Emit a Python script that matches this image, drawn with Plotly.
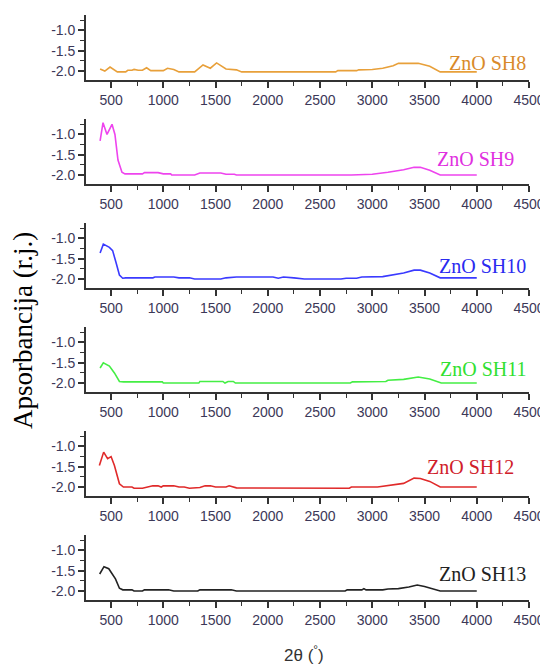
import plotly.graph_objects as go
from plotly.subplots import make_subplots

# Спектры поглощения образцов ZnO.
sh8_x = [395, 440, 490, 560, 640, 660, 700, 720, 760, 800, 840, 880, 1000, 1040, 1100, 1150, 1300,
         1380, 1450, 1510, 1600, 1700, 1750, 2650, 2670, 2850, 2870, 3000, 3100, 3200, 3250, 3440,
         3550, 3650, 4000]
sh8_y = [-1.95, -2.0, -1.9, -2.02, -2.02, -1.98, -1.98, -1.96, -1.98, -1.98, -1.92, -1.99, -1.99,
         -1.93, -1.96, -2.02, -2.02, -1.85, -1.93, -1.8, -1.95, -1.97, -2.02, -2.02, -1.99, -1.99,
         -1.97, -1.96, -1.93, -1.87, -1.81, -1.81, -1.88, -2.02, -2.02]

sh9_x = [395, 423, 461, 509, 537, 566, 604, 633, 800, 820, 950, 1000, 1070, 1080, 1300, 1350, 1550,
         1600, 1680, 1700, 2800, 3000, 3150, 3300, 3400, 3460, 3550, 3650, 4000]
sh9_y = [-1.16, -0.71, -1.0, -0.75, -1.0, -1.63, -1.93, -1.97, -1.97, -1.94, -1.94, -1.97, -1.97,
         -2.0, -2.0, -1.95, -1.95, -1.98, -1.98, -2.0, -2.0, -1.98, -1.93, -1.87, -1.81, -1.81,
         -1.88, -2.0, -2.0]

sh10_x = [395, 426, 484, 515, 548, 580, 611, 640, 900, 920, 1100, 1150, 1250, 1300, 1550, 1600,
          1700, 2050, 2100, 2150, 2250, 2350, 2700, 2750, 2850, 2900, 3100, 3200, 3300, 3400, 3460,
          3550, 3650, 4000]
sh10_y = [-1.36, -1.14, -1.22, -1.3, -1.6, -1.9, -1.98, -1.97, -1.97, -1.95, -1.95, -1.97, -1.97,
          -2.0, -2.0, -1.97, -1.95, -1.95, -1.98, -1.95, -1.97, -2.0, -2.0, -1.98, -1.98, -1.95,
          -1.94, -1.9, -1.85, -1.78, -1.78, -1.85, -1.97, -1.97]

sh11_x = [395, 426, 484, 532, 580, 620, 990, 1000, 1340, 1350, 1570, 1590, 1620, 1670, 1690, 2790,
          2810, 3130, 3150, 3300, 3440, 3550, 3660, 4000]
sh11_y = [-1.63, -1.5, -1.58, -1.75, -1.96, -1.97, -1.97, -2.0, -2.0, -1.96, -1.96, -2.0, -1.96,
          -1.96, -2.0, -2.0, -1.97, -1.96, -1.93, -1.91, -1.85, -1.9, -2.0, -2.0]

sh12_x = [388, 429, 467, 500, 532, 580, 618, 700, 720, 800, 850, 900, 950, 980, 1000, 1100, 1150,
          1200, 1250, 1350, 1400, 1450, 1500, 1600, 1630, 1700, 2780, 2800, 3050, 3200, 3300, 3400,
          3460, 3550, 3650, 4000]
sh12_y = [-1.47, -1.14, -1.3, -1.25, -1.47, -1.92, -2.0, -2.0, -2.03, -2.03, -2.0, -1.97, -1.97,
          -2.0, -1.97, -1.97, -2.0, -2.0, -2.03, -2.01, -1.97, -1.97, -2.0, -2.0, -1.97, -2.02,
          -2.03, -2.0, -2.0, -1.95, -1.91, -1.78, -1.79, -1.86, -2.0, -2.0]

sh13_x = [391, 432, 478, 510, 542, 580, 612, 700, 720, 800, 820, 1050, 1100, 1330, 1350, 1650, 1700,
          2740, 2760, 2900, 2920, 2940, 3100, 3150, 3250, 3350, 3430, 3500, 3650, 4000]
sh13_y = [-1.58, -1.4, -1.45, -1.58, -1.7, -1.93, -1.97, -1.97, -2.0, -2.0, -1.97, -1.97, -2.0,
          -2.0, -1.97, -1.97, -2.0, -2.0, -1.97, -1.97, -1.94, -1.97, -1.97, -1.95, -1.94, -1.9,
          -1.85, -1.89, -2.0, -2.0]

names = ["ZnO SH8", "ZnO SH9", "ZnO SH10", "ZnO SH11", "ZnO SH12", "ZnO SH13"]
series = [(sh8_x, sh8_y), (sh9_x, sh9_y), (sh10_x, sh10_y),
          (sh11_x, sh11_y), (sh12_x, sh12_y), (sh13_x, sh13_y)]
line_colors = ["#e8a03a", "#ee44ee", "#3a3aff", "#44ee44", "#e02a2a", "#222222"]
text_colors = ["#d98a2a", "#e030e0", "#2a2af0", "#30e030", "#d0202a", "#222222"]
label_x = [4490, 4375, 4490, 4490, 4375, 4490]
label_y = [-1.8, -1.6, -1.68, -1.65, -1.5, -1.58]

TICK_COLOR = "#3c3858"
AXIS_COLOR = "#333333"

fig = make_subplots(rows=6, cols=1, vertical_spacing=39 / 585)

for i, (name, (xs, ys)) in enumerate(zip(names, series)):
    row = i + 1
    fig.add_scatter(x=xs, y=ys, mode="lines", name=name, showlegend=False,
                    line=dict(color=line_colors[i], width=1.6), row=row, col=1)
    fig.add_annotation(x=label_x[i], y=label_y[i], text=name, showarrow=False,
                       xanchor="right", yanchor="middle",
                       font=dict(family="Liberation Serif", size=20, color=text_colors[i]),
                       row=row, col=1)

fig.update_xaxes(range=[260, 4500], tick0=500, dtick=500, ticks="outside", ticklen=6,
                 tickwidth=1.5, tickcolor=AXIS_COLOR, showline=True, linecolor=AXIS_COLOR,
                 linewidth=1.8, showgrid=False, zeroline=False, automargin=False,
                 minor=dict(dtick=250, tick0=250, ticks="outside", ticklen=4, tickcolor=AXIS_COLOR,
                            tickwidth=1.2),
                 tickfont=dict(family="Liberation Sans", size=14, color=TICK_COLOR))
fig.update_yaxes(range=[-2.22, -0.62], tickvals=[-2.0, -1.5, -1.0],
                 ticktext=["-2.0", "-1.5", "-1.0"], ticks="outside", ticklen=6, tickwidth=1.5,
                 tickcolor=AXIS_COLOR, showline=True, linecolor=AXIS_COLOR, linewidth=1.8,
                 showgrid=False, zeroline=False, automargin=False,
                 minor=dict(dtick=0.25, tick0=-2.0, ticks="outside", ticklen=4, tickcolor=AXIS_COLOR,
                            tickwidth=1.2),
                 tickfont=dict(family="Liberation Sans", size=14, color=TICK_COLOR))

fig.add_annotation(xref="paper", yref="paper", x=-0.142, y=0.46, text="Apsorbancija (r.j.)",
                   textangle=-90, showarrow=False, xanchor="center", yanchor="middle",
                   font=dict(family="Liberation Serif", size=27, color="black"))
fig.add_annotation(xref="paper", yref="paper", x=0.492, y=-0.093, text="2θ (<sup>°</sup>)",
                   showarrow=False, xanchor="center", yanchor="middle",
                   font=dict(family="Liberation Sans", size=17, color="#333333"))

# страница добавляет отступ 8px у body, поэтому фигура на 8px меньше окна
fig.update_layout(width=540, height=657, margin=dict(l=78, r=19, t=7, b=65),
                  paper_bgcolor="white", plot_bgcolor="white", showlegend=False)

fig.write_html("out.html")
